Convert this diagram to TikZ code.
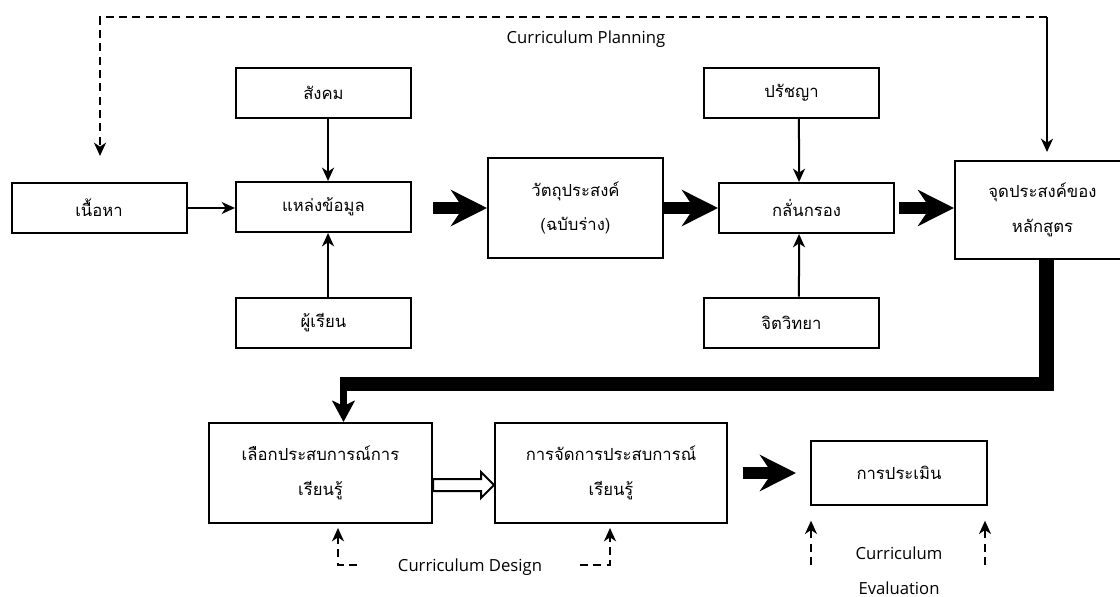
\documentclass[tikz,border=0pt]{standalone}
\usepackage{fontspec}
\newfontfamily\thaifont[Script=Thai]{Loma}
\newfontfamily\latfont{Open Sans}
\usetikzlibrary{arrows.meta}
\begin{document}
\begin{tikzpicture}[x=0.75pt,y=-0.75pt,
  box/.style={draw, line width=1.5pt, inner sep=0pt, align=center,
    minimum width=131.25pt, minimum height=37.5pt,
    font=\thaifont\fontsize{12.5}{26}\selectfont},
  lbl/.style={inner sep=0pt, font=\latfont\fontsize{12.5}{15}\selectfont},
  thin/.style={line width=1.5pt, -{Stealth[length=10pt,width=9pt,inset=3pt]}},
  dsh/.style={line width=1.5pt, dash pattern=on 6pt off 4pt, -{Stealth[length=10pt,width=9pt,inset=3pt]}},
  fat/.style={line width=9pt, -{Stealth[length=27pt,width=27pt,inset=9pt]}},
  hollow/.style={draw, line width=1.5pt, fill=white, line join=miter},
]
\useasboundingbox (0,0) rectangle (1120,596);
\clip (0,0) rectangle (1120,596);
\fill[white] (0,0) rectangle (1120,596);

% top row boxes
\node[box] (nueaha) at (99,208) {เนื้อหา};
\node[box] (sangkhom) at (323.5,92.5) {สังคม};
\node[box] (laeng) at (323.5,207) {แหล่งข้อมูล};
\node[box] (phurian) at (323.5,323) {ผู้เรียน};
\node[box, minimum height=75pt] (watthu) at (575.5,208) {วัตถุประสงค์\\(ฉบับร่าง)};
\node[box] (pratchaya) at (791.5,92.5) {ปรัชญา};
\node[box] (klan) at (806.5,208) {กลั่นกรอง};
\node[box] (chit) at (791.5,322.5) {จิตวิทยา};
\node[box, minimum height=73.5pt] (chud) at (1042.5,210) {จุดประสงค์ของ\\หลักสูตร};

% bottom row boxes
\node[box, minimum width=167.25pt, minimum height=75pt] (lueak) at (320.5,473) {เลือกประสบการณ์การ\\เรียนรู้};
\node[box, minimum width=174pt, minimum height=75pt] (jadkan) at (611,473) {การจัดการประสบการณ์\\เรียนรู้};
\node[box, minimum width=132pt, minimum height=48pt] (pramoen) at (899,473) {การประเมิน};

% labels
\node[lbl] (tplan) at (586,39) {Curriculum Planning};
\node[lbl] (tdes) at (470,567) {Curriculum Design};
\node[lbl] (tev1) at (899,553) {Curriculum};
\node[lbl] (tev2) at (899,588) {Evaluation};

% thin arrows
\draw[thin] (nueaha.east) -- (laeng.west |- nueaha.east);
\draw[thin] ([xshift=3.4pt]sangkhom.south) -- ([xshift=3.4pt]laeng.north);
\draw[thin] ([xshift=3.4pt]phurian.north) -- ([xshift=3.4pt]laeng.south);
\draw[thin] ([xshift=5.6pt]pratchaya.south) -- ([xshift=-5.6pt]klan.north);
\draw[thin] ([xshift=5.6pt]chit.north) -- ([xshift=-5.6pt]klan.south);

% top dashed loop
\coordinate (tl) at (100,17);
\coordinate (tr) at (1047,17);
\draw[dsh, shorten >=19.5pt] (tr) -- (tl) -- (tl |- nueaha.north);
\draw[thin, shorten >=6pt] (tr) -- (tr |- chud.north);

% fat arrows
\draw[fat, shorten <=15.75pt] (laeng.east |- watthu.west) -- (watthu.west);
\draw[fat] (watthu.east) -- (klan.west);
\draw[fat, shorten <=3pt] (klan.east) -- (chud.west |- klan.east);
\draw[fat, shorten <=11pt, shorten >=10.5pt] (jadkan.east) -- (pramoen.west);

% big return bar
\coordinate (c1) at (1046.5,384);
\coordinate (c2) at (343.5,384);
\draw[line width=11pt, line join=miter] ([xshift=3pt]chud.south) -- (c1) -- ([xshift=-2.6pt]c2);
\draw[line width=5.5pt, -{Stealth[length=16pt,width=17pt,inset=4pt]}] ([yshift=-5pt]c2) -- (c2 |- lueak.north);

% hollow arrow
\draw[hollow] (lueak.east) ++(0,6) -- ++(48,0) -- ++(0,-7) -- ++(13,13) -- ++(-13,13) -- ++(0,-7) -- ++(-48,0) -- cycle;

% design dashed arrows
\coordinate (dl1) at (357,565);
\coordinate (dl2) at (338,565);
\coordinate (dr1) at (580,565);
\coordinate (dr2) at (610,565);
\draw[dsh, shorten >=3pt] (dl1) -- (dl2) -- (dl2 |- lueak.south);
\draw[dsh, shorten >=3pt] (dr1) -- (dr2) -- (dr2 |- jadkan.south);

% evaluation dashed arrows
\coordinate (e1) at (811,565);
\coordinate (e2) at (985,565);
\draw[dsh, shorten >=11pt] (e1) -- (e1 |- pramoen.south);
\draw[dsh, shorten >=11pt] (e2) -- (e2 |- pramoen.south);
\end{tikzpicture}
\end{document}
